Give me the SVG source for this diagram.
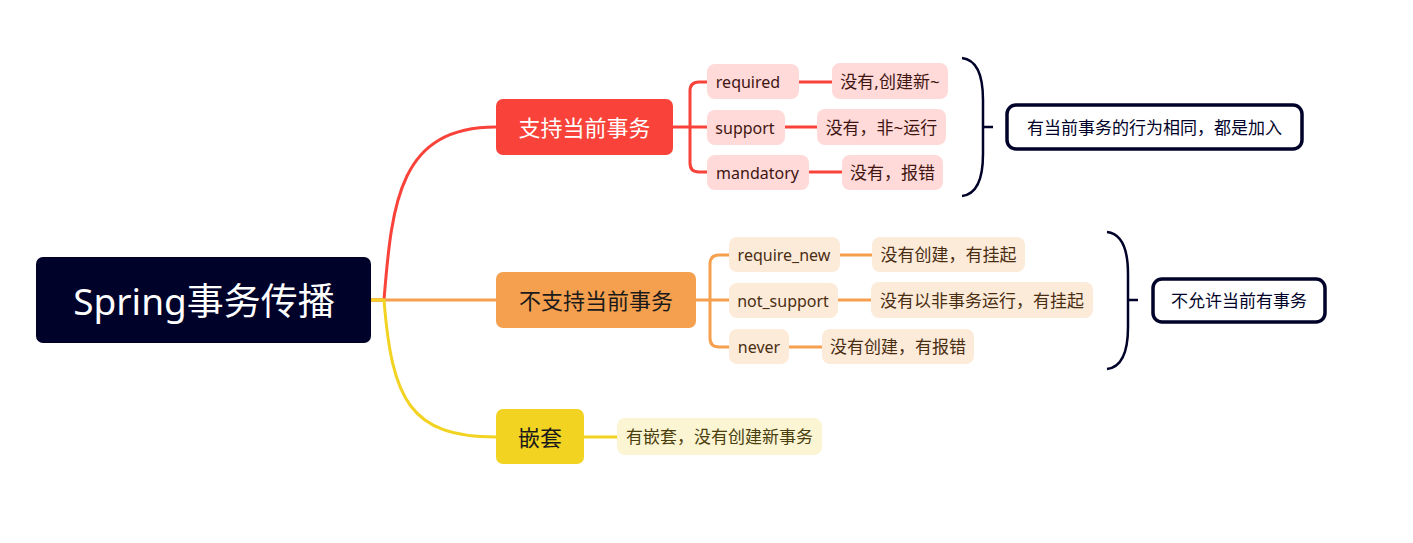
<svg xmlns="http://www.w3.org/2000/svg" width="1413" height="543" viewBox="0 0 1413 543">
<style>
text{font-family:"Noto Sans","Noto Sans CJK SC",sans-serif;dominant-baseline:central;text-anchor:middle}
.root{font-size:37px;fill:#fff}
.b{font-size:22px}
.s{font-size:16px}
.c{font-size:17px}
.red{stroke:#F9423A}
.org{stroke:#F5A04F}
.yel{stroke:#F2D321}
.conn path{fill:none;stroke-width:3;stroke-linecap:round}
.pk{fill:#FFDAD8}
.po{fill:#FDEBDA}
.py{fill:#FCF5D3}
.tpk{fill:#3F1512}
.tpo{fill:#4A2E12}
.tpy{fill:#4A400D}
.brace{fill:none;stroke:#000229;stroke-width:2.5}
.sum rect{fill:#fff;stroke:#000229;stroke-width:3.5}
.sum text{font-size:17px;fill:#000229}
</style>
<g id="connectors" class="conn">
<path class="red" d="M371 300 H384 C392 200 400 127 496 127"/>
<path class="org" d="M371 300 H496"/>
<path class="yel" d="M371 300 H384 C392 400 410 437 496 437"/>
<path class="red" d="M673 127 H690 M707 82 H699 Q690 82 690 91 V163 Q690 172 699 172 H707 M690 127 H707"/>
<path class="red" d="M799 82 H832 M785 127 H817 M809 172 H842"/>
<path class="org" d="M696 300 H710 M729 255 H719 Q710 255 710 264 V338 Q710 347 719 347 H729 M710 300 H729"/>
<path class="org" d="M840 255 H872 M838 300 H871 M789 347 H822"/>
<path class="yel" d="M584 437 H617"/>
</g>
<g id="root"><rect x="36" y="257" width="335" height="86" rx="7" fill="#000229"/><text class="root" x="204" y="300">Spring事务传播</text></g>
<g id="b1"><rect x="496" y="99" width="177" height="56" rx="7" fill="#F9423A"/><text class="b" x="584.5" y="127" fill="#fff">支持当前事务</text></g>
<g id="b2"><rect x="496" y="272" width="200" height="56" rx="7" fill="#F5A04F"/><text class="b" x="596" y="300" fill="#1a1a1a">不支持当前事务</text></g>
<g id="b3"><rect x="496" y="409" width="88" height="55" rx="7" fill="#F2D321"/><text class="b" x="540" y="436.5" fill="#1a1a1a">嵌套</text></g>
<g id="required"><rect class="pk" x="707" y="64" width="92" height="35" rx="8"/><text class="s tpk" x="748" y="81.5">required</text></g>
<g id="required-d"><rect class="pk" x="832" y="63" width="116" height="36" rx="8"/><text class="c tpk" x="890" y="81">没有,创建新~</text></g>
<g id="support"><rect class="pk" x="707" y="110" width="78" height="35" rx="8"/><text class="s tpk" x="745" y="127.5">support</text></g>
<g id="support-d"><rect class="pk" x="817" y="109" width="129" height="36" rx="8"/><text class="c tpk" x="881.5" y="127">没有，非~运行</text></g>
<g id="mandatory"><rect class="pk" x="707" y="155" width="102" height="35" rx="8"/><text class="s tpk" x="757.5" y="172.5">mandatory</text></g>
<g id="mandatory-d"><rect class="pk" x="842" y="155" width="101" height="35" rx="8"/><text class="c tpk" x="892.5" y="172.5">没有，报错</text></g>
<g id="require_new"><rect class="po" x="729" y="237" width="111" height="35" rx="8"/><text class="s tpo" x="784" y="254.5">require_new</text></g>
<g id="require_new-d"><rect class="po" x="872" y="237" width="153" height="35" rx="8"/><text class="c tpo" x="948.5" y="254.5">没有创建，有挂起</text></g>
<g id="not_support"><rect class="po" x="729" y="283" width="109" height="35" rx="8"/><text class="s tpo" x="783" y="300.5">not_support</text></g>
<g id="not_support-d"><rect class="po" x="871" y="282" width="222" height="36" rx="8"/><text class="c tpo" x="982" y="300">没有以非事务运行，有挂起</text></g>
<g id="never"><rect class="po" x="729" y="329" width="60" height="35" rx="8"/><text class="s tpo" x="759" y="346.5">never</text></g>
<g id="never-d"><rect class="po" x="822" y="329" width="152" height="35" rx="8"/><text class="c tpo" x="898" y="346.5">没有创建，有报错</text></g>
<g id="nested-d"><rect class="py" x="617" y="418" width="205" height="37" rx="8"/><text class="c tpy" x="719.5" y="436.5">有嵌套，没有创建新事务</text></g>
<g id="brace1"><path class="brace" d="M962 58 C979 60 983 80 983 100 V154 C983 174 979 194 962 196 M983 127 H993"/></g>
<g id="sum1" class="sum"><rect x="1007" y="105" width="295" height="44" rx="9"/><text x="1154.5" y="127">有当前事务的行为相同，都是加入</text></g>
<g id="brace2"><path class="brace" d="M1107 232 C1124 234 1128 254 1128 274 V327 C1128 347 1124 367 1107 369 M1128 300 H1138"/></g>
<g id="sum2" class="sum"><rect x="1153" y="279" width="172" height="43" rx="9"/><text x="1239" y="300.5">不允许当前有事务</text></g>
</svg>
